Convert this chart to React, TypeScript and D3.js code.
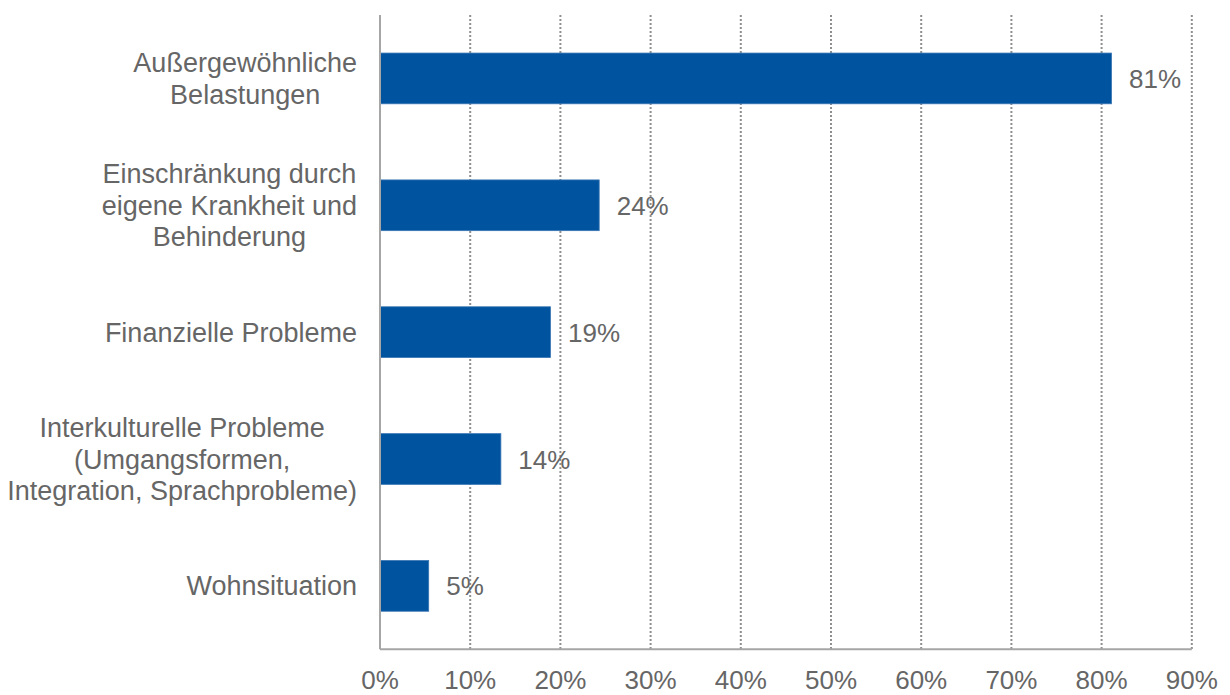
import React, { useEffect, useRef } from "react";
import * as d3 from "d3";

const categories: string[][] = [
  ["Außergewöhnliche", "Belastungen"],
  ["Einschränkung durch", "eigene Krankheit und", "Behinderung"],
  ["Finanzielle Probleme"],
  ["Interkulturelle Probleme", "(Umgangsformen,", "Integration, Sprachprobleme)"],
  ["Wohnsituation"],
];
const values: number[] = [81.1, 24.3, 18.9, 13.4, 5.4];
const valueLabels: string[] = ["81%", "24%", "19%", "14%", "5%"];
const xTicks: number[] = [0, 10, 20, 30, 40, 50, 60, 70, 80, 90];

const W = 1230;
const H = 695;
const FONT = "'Liberation Sans', Arial, Helvetica, sans-serif";
const TEXT = "#666666";

export default function App() {
  const ref = useRef<SVGSVGElement>(null);
  useEffect(() => {
    const svg = d3.select(ref.current);
    svg.selectAll("*").remove();
    const left = 380, right = 1191.8, top = 15, bottom = 649.3;
    const x = d3.scaleLinear().domain([0, 90]).range([left, right]);
    const y = d3
      .scaleBand<number>()
      .domain(values.map((_, i) => i))
      .range([top, bottom])
      .paddingInner(0.6)
      .paddingOuter(0.3);

    // gridlines
    svg
      .append("g")
      .selectAll("line")
      .data(xTicks.filter((t) => t > 0))
      .join("line")
      .attr("x1", (d) => x(d))
      .attr("x2", (d) => x(d))
      .attr("y1", top)
      .attr("y2", bottom)
      .attr("stroke", "#8f8f8f")
      .attr("stroke-width", 2)
      .attr("stroke-dasharray", "2,2");

    // bars
    svg
      .append("g")
      .selectAll("rect")
      .data(values)
      .join("rect")
      .attr("x", x(0))
      .attr("y", (_, i) => y(i)!)
      .attr("width", (d) => x(d) - x(0))
      .attr("height", y.bandwidth())
      .attr("fill", "#00549F")
      .attr("stroke", "#3a75b3")
      .attr("stroke-width", 0.8);

    // axes lines
    svg
      .append("line")
      .attr("x1", left)
      .attr("x2", left)
      .attr("y1", top)
      .attr("y2", bottom)
      .attr("stroke", "#a6a6a6")
      .attr("stroke-width", 2);
    svg
      .append("line")
      .attr("x1", left)
      .attr("x2", right)
      .attr("y1", bottom)
      .attr("y2", bottom)
      .attr("stroke", "#a6a6a6")
      .attr("stroke-width", 2);

    // value labels
    svg
      .append("g")
      .selectAll("text")
      .data(values)
      .join("text")
      .attr("x", (d) => x(d) + 17.5)
      .attr("y", (_, i) => y(i)! + y.bandwidth() / 2 + 9.5)
      .attr("font-family", FONT)
      .attr("font-size", 26)
      .attr("fill", TEXT)
      .text((_, i) => valueLabels[i]);

    // x tick labels
    svg
      .append("g")
      .selectAll("text")
      .data(xTicks)
      .join("text")
      .attr("x", (d) => x(d))
      .attr("y", 689)
      .attr("text-anchor", "middle")
      .attr("font-family", FONT)
      .attr("font-size", 26)
      .attr("fill", TEXT)
      .text((d) => `${d}%`);

    // category labels (block right-aligned, lines centered)
    const lineH = 31.5;
    categories.forEach((lines, i) => {
      const cy = y(i)! + y.bandwidth() / 2;
      const g = svg.append("g");
      const texts = g
        .selectAll("text")
        .data(lines)
        .join("text")
        .attr("text-anchor", "middle")
        .attr("font-family", FONT)
        .attr("font-size", 27)
        .attr("fill", TEXT)
        .attr("y", (_, j) => cy + (j - (lines.length - 1) / 2) * lineH + 9.5)
        .text((d) => d);
      let maxW = 0;
      texts.each(function () {
        maxW = Math.max(maxW, (this as SVGTextElement).getComputedTextLength());
      });
      texts.attr("x", 357 - maxW / 2);
    });
  }, []);
  return (
    <svg
      ref={ref}
      width={W}
      height={H}
      style={{ position: "absolute", left: 0, top: 0, background: "#fff" }}
    />
  );
}
